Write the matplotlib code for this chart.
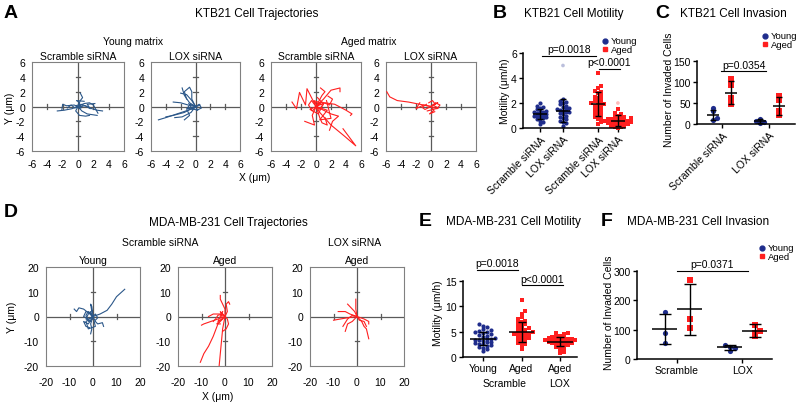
import numpy as np
import matplotlib.pyplot as plt
from matplotlib.lines import Line2D

plt.rcParams['font.family'] = ['Liberation Sans', 'DejaVu Sans']
plt.rcParams['axes.unicode_minus'] = False

W, H = 800, 406
TRACK_BLUE = '#2b5789'
BLUE = '#1f2d8c'
RED = '#ff1f1f'
FRAME = '#808080'
CROSS = '#5a5a5a'

# ---------------- data ----------------
# KTB21 trajectories (um)
ktb_young_scr = [
    [(0, 0), (0.5, 0.3), (1.5, -0.2), (2.5, -0.5), (3.2, -0.6)],
    [(0, 0), (-0.8, -0.3), (-1.8, -0.5), (-2.7, -0.6)],
    [(0, 0), (0.3, 0.8), (0.6, 1.2), (0.3, 1.8)],
    [(0, 0), (0.5, -0.6), (1.2, -1.0), (2.5, -1.2)],
    [(0, 0), (-0.5, 0.2), (-1.5, 0.1), (-2.0, 0.3), (-2.1, -0.4)],
    [(0, 0), (0.8, 0.4), (1.5, 0.5), (2.0, 0.2), (2.6, -0.9)],
    [(0, 0), (-0.3, -0.6), (0.2, -1.2), (1.0, -1.3), (1.5, -1.2)],
    [(0, 0), (0.4, -0.2), (0.1, 0.6), (-0.2, 0.8), (0.8, 0.7)],
    [(0, 0), (1.0, 0.1), (1.6, -0.3), (1.2, 0.3), (2.2, 0.4)],
    [(0, 0), (0.3, 0.3), (-0.3, 0.1), (0.2, -0.3), (0.6, 0.1)],
    [(0, 0), (-0.4, -0.2), (-0.9, 0.2), (-1.4, -0.2)],
]
ktb_young_lox = [
    [(0, 0), (-1.0, -0.5), (-2.5, -1.0), (-4.0, -1.5), (-5.0, -1.8)],
    [(0, 0), (-0.8, 0.5), (-1.5, 1.5), (-1.8, 2.5)],
    [(0, 0), (-0.5, 1.0), (-0.5, 2.0), (-0.8, 2.6), (-1.5, 2.0), (-1.2, 1.0)],
    [(0, 0), (-1.0, 0.2), (-2.0, 0.5), (-3.0, 0.6)],
    [(0, 0), (-0.6, -0.8), (-1.8, -1.4), (-2.8, -1.5)],
    [(0, 0), (0.5, 0.3), (0.8, -0.2), (0.2, -0.5)],
    [(0, 0), (-1.2, -0.3), (-0.8, -1.2), (-1.5, -1.8)],
    [(0, 0), (-0.5, 0.8), (-1.2, 1.6), (-2.0, 1.8)],
    [(0, 0), (0.3, -0.5), (-0.5, -0.3), (0.6, 0.2)],
    [(0, 0), (-1.5, -0.8), (-3.0, -1.2), (-4.0, -1.4)],
    [(0, 0), (-0.7, 0.3), (-1.1, -0.2), (-0.4, -0.4), (-0.9, 0.4)],
]
ktb_aged_scr = [
    [(0, 0), (0.5, -0.8), (2.0, -2.5), (3.8, -4.0), (5.3, -5.3), (3.6, -3.0)],
    [(0, 0), (-1.2, 2.4), (-1.4, 0.2), (-2.2, 1.9), (-2.6, -0.3), (-3.2, 0.6)],
    [(0, 0), (1.0, 1.0), (2.0, 2.2), (3.2, 2.5), (3.2, 2.0)],
    [(0, 0), (1.2, 0.5), (2.5, 0.3), (4.0, -0.5), (4.8, -1.0), (4.6, -1.2)],
    [(0, 0), (0.5, -1.5), (0.8, -2.2), (1.5, -2.5), (1.2, -1.5)],
    [(0, 0), (-0.5, -1.2), (-0.2, -2.5), (-1.5, -2.0)],
    [(0, 0), (0.8, 1.5), (1.2, 2.0), (0.6, 2.5)],
    [(0, 0), (-0.6, 0.8), (-1.0, 0.2), (-0.5, -0.6), (0.5, 0.4)],
    [(0, 0), (2.0, -1.0), (3.0, -1.3), (2.2, -2.0), (1.8, -3.2)],
    [(0, 0), (0.8, 0.6), (1.8, 0.2), (2.2, 1.0), (1.6, 1.4)],
    [(0, 0), (0.6, 0.5), (-0.3, 0.8), (0.4, -0.4), (1.0, 0.3), (0.2, 1.2)],
    [(0, 0), (-0.8, -0.4), (0.3, -1.0), (0.9, 0.2), (-0.2, 0.6)],
    [(0, 0), (1.5, -0.5), (0.5, -1.8), (2.0, -1.6), (1.4, 0.8)],
]
ktb_aged_lox = [
    [(0, 0), (-1.5, 0.3), (-3.0, 0.6), (-4.5, 0.8), (-5.5, 1.3), (-5.9, 2.0)],
    [(0, 0), (0.4, -0.5), (-0.2, -1.0), (0.5, -0.7)],
    [(0, 0), (-1.0, 0.2), (-2.0, -0.3), (-1.5, 0.5)],
    [(0, 0), (0.5, 0.4), (0.2, 0.8), (-0.3, 0.5)],
    [(0, 0), (0.8, -0.3), (1.2, 0.2), (0.6, 0.5)],
    [(0, 0), (-0.8, -0.4), (-1.2, -0.1), (-0.6, 0.3)],
    [(0, 0), (0.9, 0.5), (0.2, 0.2), (1.0, -0.2), (-0.5, -0.6)],
]

# MDA-MB-231 trajectories (um)
mda_young_scr = [
    [(0, 0), (3, 1), (6, 2.5), (8, 5), (10, 8), (13.5, 11)],
    [(0, 0), (-2, 1.5), (-4, 3), (-6, 3.5), (-7, 2), (-8, 3)],
    [(0, 0), (1, -2), (2, -3), (4, -2.5), (4.5, -4)],
    [(0, 0), (-1, -3), (-0.5, -5), (-1, -7)],
    [(0, 0), (-2, -1), (-4, 0), (-3, 2), (-1, 1.5)],
    [(0, 0), (-2, -3), (-4, -2), (-3, -4), (-1.5, -4.5)],
    [(0, 0), (-1, 2), (-2, 1), (-3, -1), (-1, -2)],
    [(0, 0), (-0.5, 4), (-1, 5), (-0.5, 2)],
    [(0, 0), (1, 1), (2, -0.5), (1, -1.5)],
    [(0, 0), (-2, 2), (-3, 0.5), (-2, -2), (0, -1), (-1, 1)],
    [(0, 0), (-3, -2), (-2, -5), (1, -4), (0.5, -2)],
]
mda_aged_scr = [
    [(0, 0), (-3, -3), (-5, -8), (-7, -12), (-9, -15), (-10.5, -18.5)],
    [(0, 0), (-1, -5), (-1.5, -10), (-2, -15), (-2.5, -20)],
    [(0, 0), (-3, -1), (-6, -2), (-9, -3), (-10, -3.5)],
    [(0, 0), (0, 3), (-1, 5), (-2, 7), (-2, 8.5)],
    [(0, 0), (1, 2), (0.5, 5), (1.5, 6), (2, 5)],
    [(0, 0), (-2, 1), (-5, 1), (-7, 0)],
    [(0, 0), (-2, -1.5), (-3.5, -3), (-2, -3)],
    [(0, 0), (1, -1), (1.5, -3), (0.5, -5), (-1, -6)],
    [(0, 0), (-1, 1), (-3, 0.5), (-4, -1), (-5, -2)],
    [(0, 0), (-2, 2), (-1, -1), (-3, -2), (-1, 2)],
]
mda_aged_lox = [
    [(0, 0), (-0.5, 3), (-0.5, 5), (-0.5, 7)],
    [(0, 0), (-3, 1), (-5, 2), (-8, 2)],
    [(0, 0), (-4, -0.5), (-7, -1), (-10, -1.5)],
    [(0, 0), (2, -2), (3, -4), (4, -5), (5, -9)],
    [(0, 0), (-2, -2), (-4, -3), (-5, -6)],
    [(0, 0), (-1, 2), (-3, 4), (-4, 5)],
    [(0, 0), (3, -1), (5, -2), (5, -3)],
    [(0, 0), (1, -1.5), (3, -2), (4, -4)],
    [(0, 0), (-2, 0.5), (-4, -1), (-6, -4)],
]

# KTB21 motility (um/h)
b_labels = ['Scramble siRNA', 'LOX siRNA', 'Scramble siRNA', 'LOX siRNA']
b_young_scr = [0.3, 0.5, 0.6, 0.7, 0.8, 0.9, 0.95, 1.0, 1.05, 1.1, 1.15, 1.2, 1.25,
               1.3, 1.4, 1.5, 1.6, 1.7, 1.8, 2.0, 0.85, 1.35]
b_young_lox = [0.2, 0.4, 0.5, 0.6, 0.8, 0.9, 1.0, 1.1, 1.2, 1.3, 1.4, 1.5, 1.5, 1.6,
               1.7, 1.8, 1.9, 2.0, 2.1, 2.2, 1.25, 1.45, 0.7, 2.3]
b_aged_scr = [0.3, 0.5, 0.7, 0.8, 1.0, 1.1, 1.2, 1.3, 1.5, 1.6, 1.7, 1.8, 1.9, 2.0,
              2.0, 2.1, 2.2, 2.3, 2.5, 2.6, 2.8, 3.0, 3.2, 3.4, 4.4, 1.4, 2.4, 0.9, 1.85, 2.9]
b_aged_lox = [0.0, 0.05, 0.1, 0.2, 0.25, 0.3, 0.35, 0.4, 0.45, 0.5, 0.5, 0.55, 0.6, 0.6,
              0.65, 0.7, 0.7, 0.75, 0.8, 0.8, 0.85, 0.9, 1.0, 1.1, 1.2, 1.5, 0.4, 0.6, 0.3, 0.15]
b_outliers = [5.0, 2.0]           # young LOX, aged LOX (shown faded)
b_means = [1.1, 1.4, 1.9, 0.6]
b_sds = [0.4, 0.9, 0.95, 0.45]

# KTB21 invasion (cells)
c_labels = ['Scramble siRNA', 'LOX siRNA']
c_young_scr = [37, 30, 15, 10]
c_aged_scr = [107, 92, 63, 47]
c_young_lox = [12, 8, 5, 3]
c_aged_lox = [67, 58, 30, 22]
c_means = [22, 75, 7, 43]
c_sds = [12, 28, 4, 21]

# MDA-MB-231 motility (um/h)
e_labels = ['Young', 'Aged', 'Aged']
e_young_scr = [1.2, 1.6, 1.8, 2.0, 2.2, 2.3, 2.5, 2.7, 2.9, 3.0, 3.2, 3.4, 3.5, 3.6, 3.8,
               4.0, 4.2, 4.4, 4.6, 4.8, 5.0, 5.0, 5.2, 5.3, 5.5, 6.0, 6.2, 6.5, 3.3, 2.6]
e_aged_scr = [1.6, 2.2, 2.5, 2.8, 3.0, 3.3, 3.5, 3.8, 4.0, 4.2, 4.4, 4.5, 4.7, 4.9, 5.0, 5.2,
              5.4, 5.6, 5.8, 6.0, 6.2, 6.5, 6.8, 7.0, 7.2, 7.5, 7.8, 8.5, 9.0, 11.2, 4.6, 3.6]
e_aged_lox = [0.8, 1.0, 1.5, 1.8, 2.0, 2.2, 2.4, 2.5, 2.6, 2.8, 2.9, 3.0, 3.0, 3.1, 3.2,
              3.3, 3.4, 3.5, 3.5, 3.6, 3.7, 3.8, 3.9, 4.0, 4.2, 4.5, 4.8, 4.8, 2.7, 3.3]
e_means = [3.6, 5.0, 3.0]
e_sds = [1.3, 2.0, 0.85]

# MDA-MB-231 invasion (cells)
f_labels = ['Scramble', 'LOX']
f_young_scr = [160, 90, 55]
f_aged_scr = [268, 135, 105]
f_young_lox = [48, 40, 38, 28]
f_aged_lox = [115, 97, 90, 78]
f_means = [103, 170, 40, 97]
f_sds = [52, 87, 9, 21]


# ---------------- helpers ----------------
def ftext(fig, x, y, s, size=7.5, **kw):
    kw.setdefault('ha', 'center')
    kw.setdefault('va', 'center')
    fig.text(x / W, 1 - y / H, s, fontsize=size, **kw)


def add_axes(fig, x0, y0, x1, y1):
    return fig.add_axes([x0 / W, 1 - y1 / H, (x1 - x0) / W, (y1 - y0) / H])


def fig_marker(fig, x, y, marker, color, size=3.5):
    fig.add_artist(Line2D([x / W], [1 - y / H], marker=marker, color=color,
                          markersize=size, lw=0, transform=fig.transFigure))


def legend(fig, x, y, dy=8, size=6.8):
    fig_marker(fig, x, y, 'o', BLUE)
    fig_marker(fig, x, y + dy, 's', RED)
    ftext(fig, x + 6, y - 0.5, 'Young', size=size, ha='left')
    ftext(fig, x + 6, y + dy + 0.5, 'Aged', size=size, ha='left')


def swarm(vals, sep, step):
    vals = np.asarray(vals, float)
    offs = np.zeros(len(vals))
    placed = []
    for i in np.argsort(vals):
        k = 0
        while True:
            cand = ((k + 1) // 2) * (1 if k % 2 else -1) * step
            if all(abs(vals[i] - pv) >= sep or abs(cand - po) >= step * 0.99
                   for pv, po in placed):
                break
            k += 1
        offs[i] = cand
        placed.append((vals[i], cand))
    return offs


def track_panel(ax, tracks, color, lim, step, marks, tlen, pad_x, pad_y):
    for tr in tracks:
        a = np.array(tr)
        ax.plot(a[:, 0], a[:, 1], color=color, lw=0.8, zorder=3)
    ax.axhline(0, color=CROSS, lw=0.9, zorder=1)
    ax.axvline(0, color=CROSS, lw=0.9, zorder=1)
    for m in marks:
        ax.plot([m, m], [-tlen, tlen], color=CROSS, lw=0.9, zorder=1)
        ax.plot([-tlen, tlen], [m, m], color=CROSS, lw=0.9, zorder=1)
    ax.set_xlim(-lim, lim)
    ax.set_ylim(-lim, lim)
    ticks = np.arange(-lim, lim + 1, step)
    ax.set_xticks(ticks)
    ax.set_yticks(ticks)
    ax.tick_params(axis='x', length=0, labelsize=7.5, pad=pad_x)
    ax.tick_params(axis='y', length=0, labelsize=7.5, pad=pad_y)
    for s in ax.spines.values():
        s.set_color(FRAME)
        s.set_linewidth(0.8)


def dot_panel(ax, positions, groups, means, sds, colors, markers, sep, step,
              half, cap, size):
    for pos, vals, m, sd, c, mk in zip(positions, groups, means, sds, colors, markers):
        offs = swarm(vals, sep, step)
        ax.scatter(pos + offs, vals, s=size, c=c, marker=mk, lw=0, zorder=2, clip_on=False)
        ax.hlines(m, pos - half, pos + half, color='k', lw=1.1, zorder=3)
        ax.errorbar(pos, m, yerr=sd, color='k', capsize=cap, lw=1.0, capthick=1.0,
                    zorder=3)
    for side in ('top', 'right'):
        ax.spines[side].set_visible(False)
    for side in ('left', 'bottom'):
        ax.spines[side].set_linewidth(1.1)
    ax.tick_params(length=3, width=1.0, labelsize=7.5, pad=1.5)


def bracket(ax, x0, x1, y, text, dy):
    ax.plot([x0, x1], [y, y], color='k', lw=0.8, clip_on=False)
    ax.text((x0 + x1) / 2, y + dy, text, ha='center', va='bottom', fontsize=7.5)


fig = plt.figure(figsize=(8, 4.06), dpi=100)

# ---------------- A ----------------
ftext(fig, 11, 13, 'A', size=14, weight='bold')
ftext(fig, 257, 14, 'KTB21 Cell Trajectories', size=8.5)
ftext(fig, 133, 42, 'Young matrix')
ftext(fig, 369, 42, 'Aged matrix')
a_boxes = [(32, 124), (151, 240), (271, 361), (386, 476)]
a_tracks = [ktb_young_scr, ktb_young_lox, ktb_aged_scr, ktb_aged_lox]
a_titles = ['Scramble siRNA', 'LOX siRNA', 'Scramble siRNA', 'LOX siRNA']
a_colors = [TRACK_BLUE, TRACK_BLUE, RED, RED]
for (x0, x1), tr, tt, col in zip(a_boxes, a_tracks, a_titles, a_colors):
    ax = add_axes(fig, x0, 63, x1, 152)
    track_panel(ax, tr, col, 6, 2, [-4, -2, 2, 4], 0.3, 6, 5)
    ftext(fig, (x0 + x1) / 2, 57, tt)
ftext(fig, 10, 108, 'Y (\u03bcm)', rotation=90)
ftext(fig, 255, 178, 'X (\u03bcm)')

# ---------------- B ----------------
ftext(fig, 500, 14, 'B', size=14, weight='bold')
ftext(fig, 574, 14, 'KTB21 Cell Motility', size=8.5)
axb = add_axes(fig, 523, 54, 625, 129)
b_pos = [1.0, 2.0, 3.52, 4.39]
dot_panel(axb, b_pos, [b_young_scr, b_young_lox, b_aged_scr, b_aged_lox], b_means, b_sds,
          [BLUE, BLUE, RED, RED], ['o', 'o', 's', 's'], 0.22, 0.14, 0.3, 2.5, 9)
axb.scatter([b_pos[1], b_pos[3]], b_outliers, s=7, c=[BLUE, RED], marker='o', lw=0,
            alpha=0.3, zorder=2)
axb.set_xlim(0.26, 4.7)
axb.set_ylim(0, 6)
axb.set_yticks([0, 2, 4, 6])
axb.set_xticks(b_pos)
axb.set_xticklabels(b_labels, rotation=45, ha='right', rotation_mode='anchor')
bracket(axb, 1.1, 3.45, 5.76, 'p=0.0018', 0.15)
bracket(axb, 3.56, 4.48, 4.72, 'p<0.0001', 0.15)
ftext(fig, 505, 91, 'Motility (\u03bcm/h)', size=7.5, rotation=90)
legend(fig, 605, 42)

# ---------------- C ----------------
ftext(fig, 662, 14, 'C', size=14, weight='bold')
ftext(fig, 733, 14, 'KTB21 Cell Invasion', size=8.5)
axc = add_axes(fig, 697, 62, 795, 125)
c_pos = [0.8, 1.7, 3.15, 4.1]
dot_panel(axc, c_pos, [c_young_scr, c_aged_scr, c_young_lox, c_aged_lox], c_means, c_sds,
          [BLUE, RED, BLUE, RED], ['o', 's', 'o', 's'], 6, 0.2, 0.3, 2.5, 14)
axc.set_xlim(0, 4.9)
axc.set_ylim(0, 150)
axc.set_yticks([0, 50, 100, 150])
axc.set_xticks([1.25, 3.6])
axc.set_xticklabels(c_labels, rotation=45, ha='right', rotation_mode='anchor')
bracket(axc, 1.2, 3.45, 126, 'p=0.0354', 3)
ftext(fig, 669, 90, 'Number of Invaded Cells', size=7.5, rotation=90)
legend(fig, 765, 37)

# ---------------- D ----------------
ftext(fig, 11, 213, 'D', size=14, weight='bold')
ftext(fig, 228, 223, 'MDA-MB-231 Cell Trajectories', size=8.5)
ftext(fig, 160, 243, 'Scramble siRNA')
ftext(fig, 355, 243, 'LOX siRNA')
d_boxes = [(46, 140), (178, 272), (310, 404)]
d_tracks = [mda_young_scr, mda_aged_scr, mda_aged_lox]
d_titles = ['Young', 'Aged', 'Aged']
d_colors = [TRACK_BLUE, RED, RED]
for (x0, x1), tr, tt, col in zip(d_boxes, d_tracks, d_titles, d_colors):
    ax = add_axes(fig, x0, 268, x1, 367)
    track_panel(ax, tr, col, 20, 10, [-10, 10], 1.0, 8, 5)
    ftext(fig, (x0 + x1) / 2, 261, tt)
ftext(fig, 12, 317, 'Y (\u03bcm)', rotation=90)
ftext(fig, 218, 397, 'X (\u03bcm)')

# ---------------- E ----------------
ftext(fig, 425, 222, 'E', size=14, weight='bold')
ftext(fig, 513, 222, 'MDA-MB-231 Cell Motility', size=8.5)
axe = add_axes(fig, 463, 282, 577, 358)
e_pos = [1.0, 2.0, 3.0]
dot_panel(axe, e_pos, [e_young_scr, e_aged_scr, e_aged_lox], e_means, e_sds,
          [BLUE, RED, RED], ['o', 's', 's'], 0.6, 0.1, 0.33, 3, 9)
axe.set_xlim(0.48, 3.44)
axe.set_ylim(0, 15)
axe.set_yticks([0, 5, 10, 15])
axe.set_xticks(e_pos)
axe.set_xticklabels(e_labels)
bracket(axe, 0.84, 1.91, 17.2, 'p=0.0018', 0.3)
bracket(axe, 2.01, 3.08, 14.2, 'p<0.0001', 0.3)
ftext(fig, 505, 384, 'Scramble')
ftext(fig, 560, 384, 'LOX')
ftext(fig, 438, 313, 'Motility (\u03bcm/h)', rotation=90)

# ---------------- F ----------------
ftext(fig, 607, 222, 'F', size=14, weight='bold')
ftext(fig, 698, 222, 'MDA-MB-231 Cell Invasion', size=8.5)
axf = add_axes(fig, 637, 272, 772, 360)
f_pos = [1.0, 2.0, 3.6, 4.6]
dot_panel(axf, f_pos, [f_young_scr, f_aged_scr, f_young_lox, f_aged_lox], f_means, f_sds,
          [BLUE, RED, BLUE, RED], ['o', 's', 'o', 's'], 12, 0.2, 0.5, 4, 14)
axf.set_xlim(-0.1, 5.3)
axf.set_ylim(0, 300)
axf.set_yticks([0, 100, 200, 300])
axf.set_xticks([1.5, 4.1])
axf.set_xticklabels(f_labels)
bracket(axf, 1.48, 4.32, 300, 'p=0.0371', 8)
ftext(fig, 609, 313, 'Number of Invaded Cells', rotation=90)
legend(fig, 762, 249)

fig.savefig('out.png', dpi=100)
